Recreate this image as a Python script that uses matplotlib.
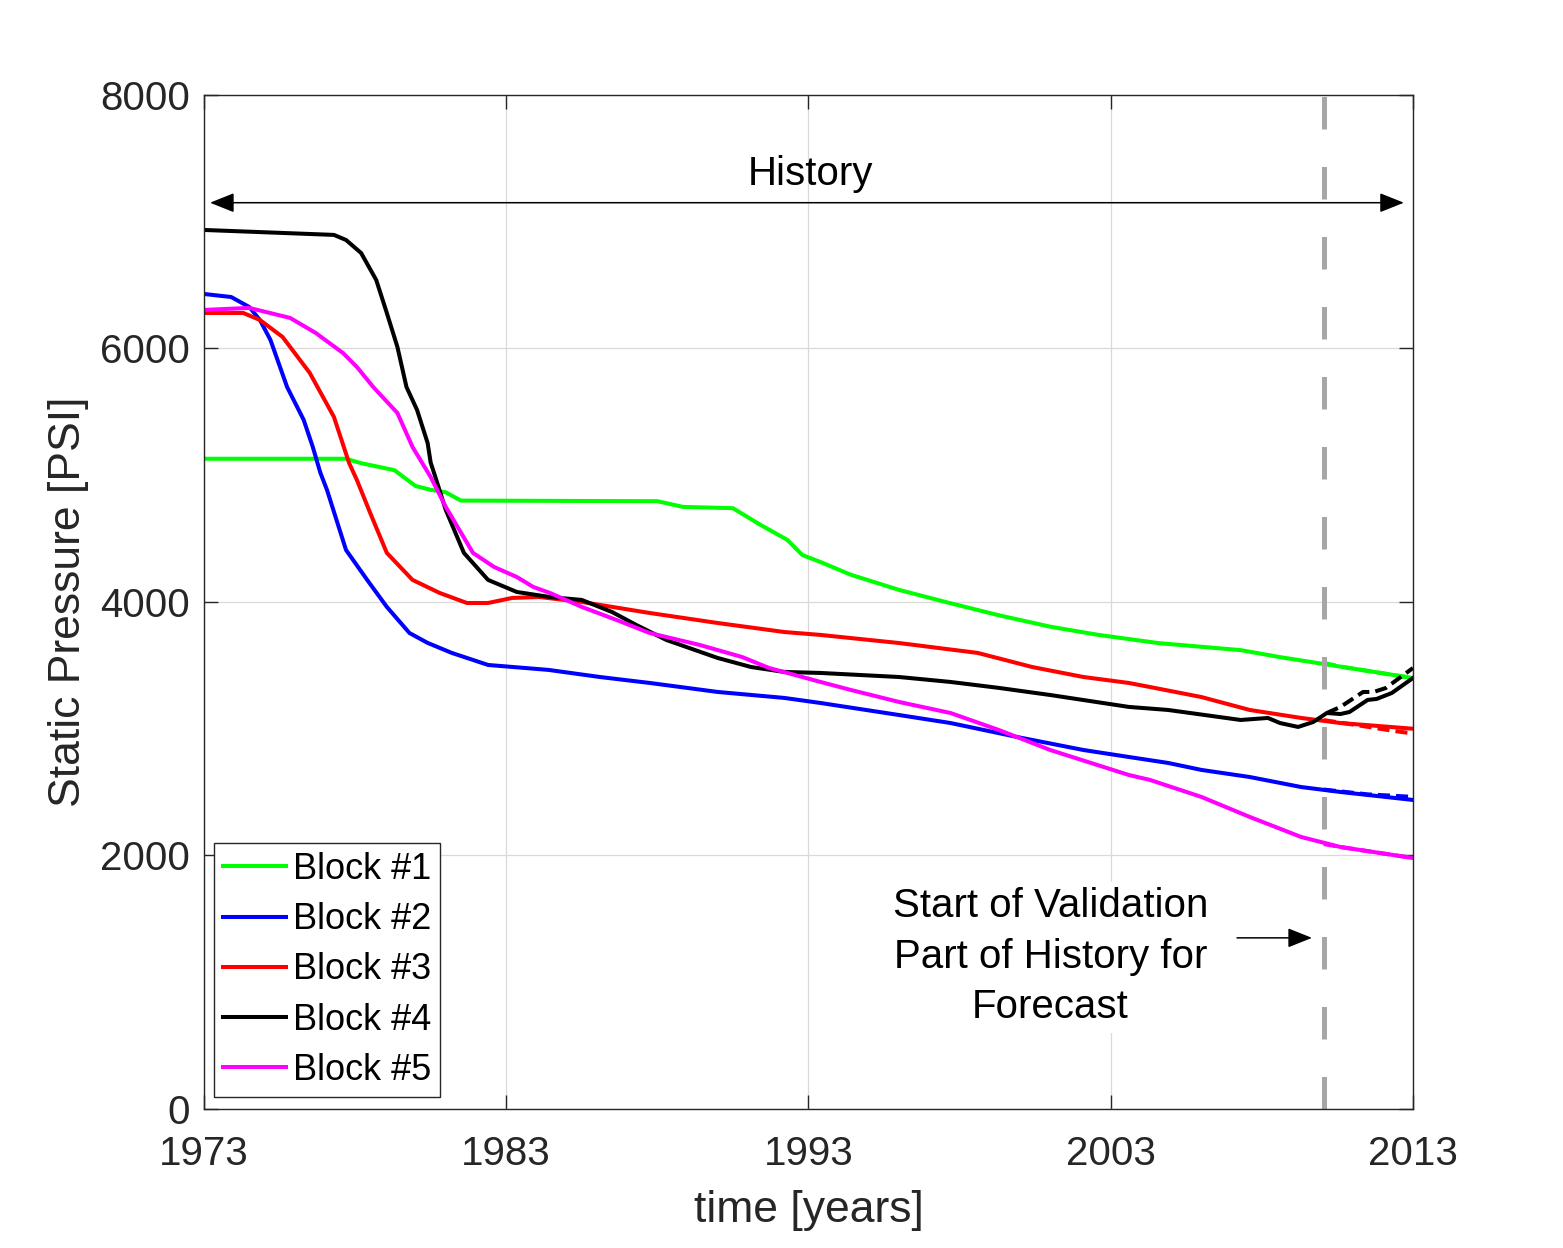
import numpy as np
import matplotlib
matplotlib.use('Agg')
import matplotlib.pyplot as plt

plt.rcParams['font.family'] = ['Liberation Sans', 'DejaVu Sans']

# data (years, psi)
yr1 = [1973, 1977.7, 1978.2, 1979.3, 1980.0, 1980.5, 1981.0, 1981.5, 1988.0, 1988.85, 1990.5, 1991.4,
       1992.3, 1992.8, 1993.4, 1994.4, 1996.0, 1997.7, 1999.3, 2001.0, 2002.6, 2004.6, 2007.3, 2008.6,
       2010.6, 2013]
p1 = [5130, 5130, 5095, 5040, 4915, 4885, 4865, 4800, 4795, 4750, 4740, 4610,
      4490, 4370, 4315, 4215, 4095, 3990, 3895, 3805, 3740, 3675, 3620, 3565,
      3490, 3400]

yr2 = [1973, 1973.9, 1974.5, 1974.85, 1975.2, 1975.75, 1976.3, 1976.6, 1976.85, 1977.07, 1977.7, 1978.4,
       1979.05, 1979.8, 1980.4, 1981.2, 1982.4, 1984.4, 1986.1, 1987.75, 1990.0, 1992.2, 1993.4, 1996.0,
       1997.7, 1999.9, 2002.1, 2003.6, 2004.9, 2006.0, 2007.6, 2009.3, 2010.6, 2013]
p2 = [6430, 6406, 6327, 6225, 6067, 5696, 5436, 5223, 5020, 4884, 4410, 4174,
      3961, 3755, 3677, 3598, 3503, 3464, 3408, 3361, 3290, 3243, 3203, 3108,
      3045, 2935, 2832, 2777, 2730, 2675, 2619, 2540, 2501, 2438]

yr3 = [1973, 1974.3, 1974.85, 1975.6, 1976.5, 1977.3, 1977.8, 1978.06, 1978.5, 1979.05, 1979.9, 1980.8,
       1981.7, 1982.4, 1983.2, 1984.1, 1985.5, 1987.75, 1990.0, 1992.2, 1993.4, 1996.0, 1998.6, 2000.4,
       2002.1, 2003.6, 2004.3, 2006.0, 2007.6, 2009.3, 2010.6, 2013]
p3 = [6280, 6280, 6225, 6091, 5807, 5460, 5097, 4962, 4702, 4387, 4174, 4071,
      3992, 3992, 4032, 4039, 4000, 3913, 3834, 3763, 3740, 3676, 3598, 3487,
      3408, 3361, 3329, 3250, 3148, 3085, 3045, 3000]

yr4 = [1973, 1977.3, 1977.7, 1978.2, 1978.7, 1979.05, 1979.4, 1979.7, 1980.05, 1980.4, 1980.5, 1980.65,
       1981.0, 1981.6, 1982.4, 1983.35, 1984.45, 1985.5, 1986.5, 1987.3, 1988.3, 1990.0, 1991.1, 1992.2,
       1993.4, 1996.0, 1997.7, 1999.3, 2001.0, 2003.6, 2004.9, 2007.3, 2008.2, 2008.6, 2009.2, 2009.7,
       2010.15, 2010.6, 2010.9, 2011.5, 2011.8, 2012.3, 2013]
p4 = [6935, 6896, 6856, 6753, 6540, 6280, 6012, 5696, 5515, 5254, 5100, 4990,
      4726, 4387, 4174, 4079, 4039, 4016, 3921, 3819, 3700, 3558, 3487, 3448,
      3440, 3408, 3369, 3322, 3266, 3172, 3148, 3069, 3085, 3045, 3014, 3053,
      3124, 3116, 3132, 3227, 3235, 3282, 3400]

yr5 = [1973, 1974.5, 1975.85, 1976.7, 1977.6, 1978.06, 1978.6, 1979.4, 1979.9, 1980.5, 1981.0, 1981.9,
       1982.6, 1983.35, 1983.9, 1984.45, 1985.5, 1986.65, 1987.75, 1989.4, 1990.8, 1991.7, 1993.4, 1994.4,
       1996.0, 1997.7, 1999.3, 2001.0, 2003.6, 2004.3, 2006.0, 2007.6, 2009.3, 2010.6, 2013]
p5 = [6304, 6320, 6241, 6122, 5964, 5854, 5696, 5491, 5223, 4986, 4750, 4387,
      4276, 4197, 4118, 4071, 3961, 3858, 3755, 3661, 3566, 3479, 3369, 3306,
      3211, 3124, 2990, 2832, 2635, 2596, 2462, 2304, 2146, 2067, 1980]

# forecast from start of validation
fyr1 = [2010.05, 2010.6, 2013]
fp1 = [3520, 3490, 3400]
fyr2 = [2010.05, 2011.5, 2012.3, 2013]
fp2 = [2520, 2482, 2472, 2462]
fyr3 = [2010.05, 2011.5, 2012.3, 2013]
fp3 = [3068, 3015, 2985, 2962]
fyr4 = [2010.15, 2010.6, 2011.35, 2011.7, 2012.1, 2013]
fp4 = [3124, 3172, 3290, 3290, 3321, 3479]
fyr5 = [2010.05, 2010.6, 2013]
fp5 = [2090, 2067, 1980]

labels = ['Block #1', 'Block #2', 'Block #3', 'Block #4', 'Block #5']
colors = ['#00ff00', '#0000ff', '#ff0000', '#000000', '#ff00ff']
xticks = [1973, 1983, 1993, 2003, 2013]
yticks = [0, 2000, 4000, 6000, 8000]
t_valid = 2010.05

fig = plt.figure(figsize=(15.63, 12.48), dpi=100)
ax = fig.add_axes([0.1305, 0.1114, 0.7735, 0.8125])

hist = [(yr1, p1), (yr2, p2), (yr3, p3), (yr4, p4), (yr5, p5)]
fc = [(fyr1, fp1), (fyr2, fp2), (fyr3, fp3), (fyr4, fp4), (fyr5, fp5)]
for (x, y), (fx, fy), c, lab in zip(hist, fc, colors, labels):
    ax.plot(fx, fy, '--', color=c, lw=2.9, dashes=(3, 1.5))
    ax.plot(x, y, color=c, lw=2.9, label=lab)

ax.axvline(t_valid, color='#a6a6a6', lw=3.6, dashes=(6.5, 7.5))

# history arrow
ax.annotate('', xy=(1973.2, 7150), xytext=(2012.7, 7150),
            arrowprops=dict(arrowstyle='<|-|>,head_length=0.75,head_width=0.3', color='black',
                            lw=1.1, mutation_scale=20, shrinkA=0, shrinkB=0))
ax.text(1993.05, 7380, 'History', ha='center', va='center', fontsize=29)

ax.text(2001.0, 1200, 'Start of Validation\nPart of History for\nForecast', ha='center', va='center',
        fontsize=29, linespacing=1.42, backgroundcolor='white', zorder=5)
ax.annotate('', xy=(2009.66, 1350), xytext=(2007.18, 1350),
            arrowprops=dict(arrowstyle='-|>,head_length=0.75,head_width=0.3', color='black',
                            lw=1.1, mutation_scale=20, shrinkA=0, shrinkB=0))

ax.set_xlim(1973, 2013)
ax.set_ylim(0, 8000)
ax.set_xticks(xticks)
ax.set_yticks(yticks)
ax.grid(True, color='#d9d9d9', lw=0.9)
ax.set_axisbelow(True)
ax.tick_params(direction='in', length=10, width=1, top=True, right=True, labelsize=29,
               colors='#262626')
ax.tick_params(axis='x', pad=19)
ax.tick_params(axis='y', pad=10)
for s in ax.spines.values():
    s.set_color('#262626')
    s.set_linewidth(1)
ax.set_xlabel('time [years]', fontsize=32, color='#262626', labelpad=12)
ax.set_ylabel('Static Pressure [PSI]', fontsize=32, color='#262626', labelpad=8)

leg = ax.legend(loc='lower left', bbox_to_anchor=(0.008, 0.012), borderaxespad=0, fontsize=26,
                fancybox=False, edgecolor='#262626', framealpha=1, handlelength=1.75,
                handletextpad=0.2, borderpad=0.25, labelspacing=0.42)
leg.get_frame().set_linewidth(1)

plt.savefig('out.png', dpi=100)
